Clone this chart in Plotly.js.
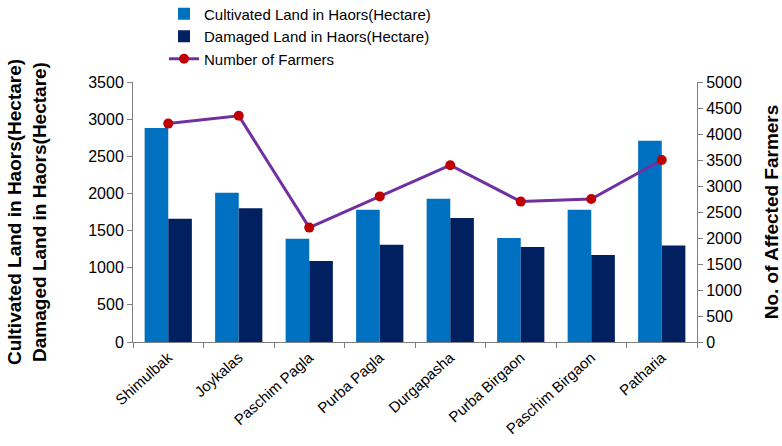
<!DOCTYPE html>
<html>
<head>
<meta charset="utf-8">
<script src="https://cdn.plot.ly/plotly-3.0.1.min.js"></script>
<style>html,body{margin:0;padding:0;background:#fff;}#chart{width:782px;height:446px;}</style>
</head>
<body>
<div id="chart"></div>
<script>
const categories = ["Shimulbak","Joykalas","Paschim Pagla","Purba Pagla","Durgapasha","Purba Birgaon","Paschim Birgaon","Patharia"];
const cultivatedLand = [2880, 2010, 1390, 1780, 1930, 1400, 1780, 2710];
const damagedLand = [1660, 1800, 1090, 1310, 1670, 1280, 1170, 1300];
const farmers = [4200, 4350, 2200, 2800, 3400, 2700, 2750, 3500];
const leftTicks = [0,500,1000,1500,2000,2500,3000,3500];
const rightTicks = [0,500,1000,1500,2000,2500,3000,3500,4000,4500,5000];

const font = "Liberation Sans, Arial, sans-serif";
const traces = [
  {type:"bar", name:"Cultivated Land in Haors(Hectare)", x:categories, y:cultivatedLand, marker:{color:"#0070C0"}},
  {type:"bar", name:"Damaged Land in Haors(Hectare)", x:categories, y:damagedLand, marker:{color:"#002060"}},
  {type:"scatter", mode:"lines+markers", name:"Number of Farmers", x:categories, y:farmers, yaxis:"y2",
   line:{color:"#7030A0", width:3}, marker:{color:"#C00000", size:10}}
];
const layout = {
  width:782, height:446,
  margin:{l:133, r:85, t:82, b:104, autoexpand:false},
  paper_bgcolor:"#fff", plot_bgcolor:"#fff",
  font:{family:font, color:"#000", size:14},
  barmode:"group", bargap:0.33, bargroupgap:0,
  showlegend:true,
  legend:{x:0.055, y:1.325, xanchor:"left", yanchor:"top", orientation:"v", font:{size:15}, tracegroupgap:0, itemwidth:30, bgcolor:"rgba(0,0,0,0)", traceorder:"normal"},
  xaxis:{type:"category", showline:true, linecolor:"#808080", linewidth:1, ticks:"outside", tickson:"boundaries", ticklen:5, tickcolor:"#808080",
         tickangle:-42, tickfont:{size:15}, showgrid:false, zeroline:false},
  yaxis:{range:[0,3500], tickvals:leftTicks, showline:true, linecolor:"#808080", ticks:"outside", ticklen:5, tickcolor:"#808080",
         showgrid:false, zeroline:false, tickfont:{size:16},
         title:{text:"<b>Cultivated Land in Haors(Hectare)<br>Damaged Land in Haors(Hectare)</b>", font:{size:19}, standoff:36}},
  yaxis2:{range:[0,5000], tickvals:rightTicks, overlaying:"y", side:"right", showline:true, linecolor:"#808080", ticks:"outside", ticklen:5, tickcolor:"#808080",
          showgrid:false, zeroline:false, tickfont:{size:16},
          title:{text:"<b>No. of Affected Farmers</b>", font:{size:19}, standoff:37}}
};
Plotly.newPlot("chart", traces, layout, {displayModeBar:false, staticPlot:true});
</script>
</body>
</html>
